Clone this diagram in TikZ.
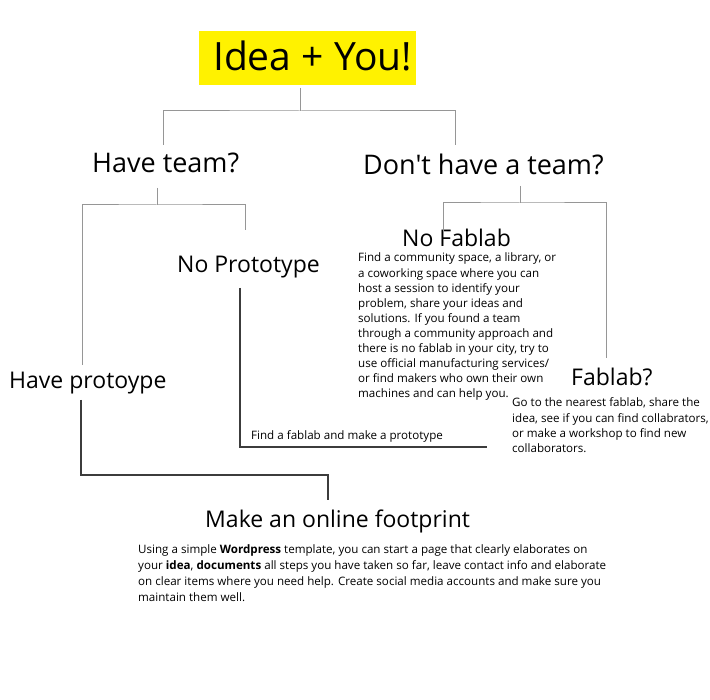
\documentclass[tikz,border=0pt]{standalone}
\usepackage{fontspec}
\setmainfont{Open Sans}[Ligatures=TeXOff]
\definecolor{glines}{RGB}{150,150,150}
\definecolor{dlines}{RGB}{60,60,60}
\begin{document}
\begin{tikzpicture}[x=1pt,y=-1pt,
  gl/.style={draw=glines,line width=1pt},
  dl/.style={draw=dlines,line width=1.3pt},
  ttl/.style={anchor=base west,inner sep=0pt,font=\fontsize{23}{26}\selectfont},
  big/.style={anchor=base west,inner sep=0pt,font=\fontsize{27}{30}\selectfont},
  para/.style={anchor=base west,inner sep=0pt}]
\useasboundingbox (0,0) rectangle (710,700);
\fill[white] (0,0) rectangle (710,700);
% root
\node[fill=yellow,anchor=north west,minimum width=217pt,minimum height=54pt,inner sep=0pt] (idea) at (199,31) {};
\node[anchor=base west,inner sep=0pt,font=\fontsize{39}{42}\selectfont] (ideat) at (213,71) {Idea + You!};
% level 1
\node[big] (team) at (92,173) {Have team?};
\node[big] (noteam) at (363,175) {Don't have a team?};
% level 2
\node[ttl] (noproto) at (177,273) {No Prototype};
\node[ttl] (haveproto) at (9,389) {Have protoype};
\node[ttl] (nofab) at (402,247) {No Fablab};
\node[ttl] (fab) at (571,386) {Fablab?};
\node[ttl] (foot) at (205,528) {Make an online footprint};
% paragraphs
\node[para] (nofabp) at (358,262) {\parbox[t]{260pt}{\fontsize{11.6}{15.1}\selectfont\raggedright
Find a community space, a library, or\\
a coworking space where you can\\
host a session to identify your\\
problem, share your ideas and\\
solutions. If you found a team\\
through a community approach and\\
there is no fablab in your city, try to\\
use official manufacturing services/\\
or find makers who own their own\\
machines and can help you.}};
\node[para] (fabp) at (512,407) {\parbox[t]{200pt}{\fontsize{11.6}{15.3}\selectfont\raggedright
Go to the nearest fablab, share the\\
idea, see if you can find collabrators,\\
or make a workshop to find new\\
collaborators.}};
\node[para] (findp) at (251,440) {\fontsize{11.6}{14}\selectfont Find a fablab and make a prototype};
\node[para] (footp) at (138,554) {\parbox[t]{520pt}{\fontsize{11.6}{15.7}\selectfont\raggedright
Using a simple \textbf{Wordpress} template, you can start a page that clearly elaborates on\\
your \textbf{idea}, \textbf{documents} all steps you have taken so far, leave contact info and elaborate\\
on clear items where you need help. Create social media accounts and make sure you\\
maintain them well.}};
% connector coordinates
\coordinate (r0) at (300,88);
\coordinate (r1) at (300,111);
\coordinate (ra) at (163,145);
\coordinate (rb) at (455,145);
\coordinate (t0) at (157,188);
\coordinate (t1) at (157,205);
\coordinate (ta) at (82,365);
\coordinate (tb) at (245,230);
\coordinate (n0) at (520,186);
\coordinate (n1) at (520,203);
\coordinate (na) at (443,232);
\coordinate (nb) at (606,358);
\coordinate (p0) at (240,288);
\coordinate (p1) at (487,447);
\coordinate (h0) at (81,400);
\coordinate (h1) at (328,475);
\coordinate (h2) at (328,500);
% connectors
\draw[gl] (r0) -- (r1);
\draw[gl] (ra) |- (r1) -| (rb);
\draw[gl] (t0) -- (t1);
\draw[gl] (ta) |- (t1) -| (tb);
\draw[gl] (n0) -- (n1);
\draw[gl] (na) |- (n1) -| (nb);
\draw[dl] (p0) |- (p1);
\draw[dl] (h0) |- (h1) -- (h2);
\end{tikzpicture}
\end{document}
